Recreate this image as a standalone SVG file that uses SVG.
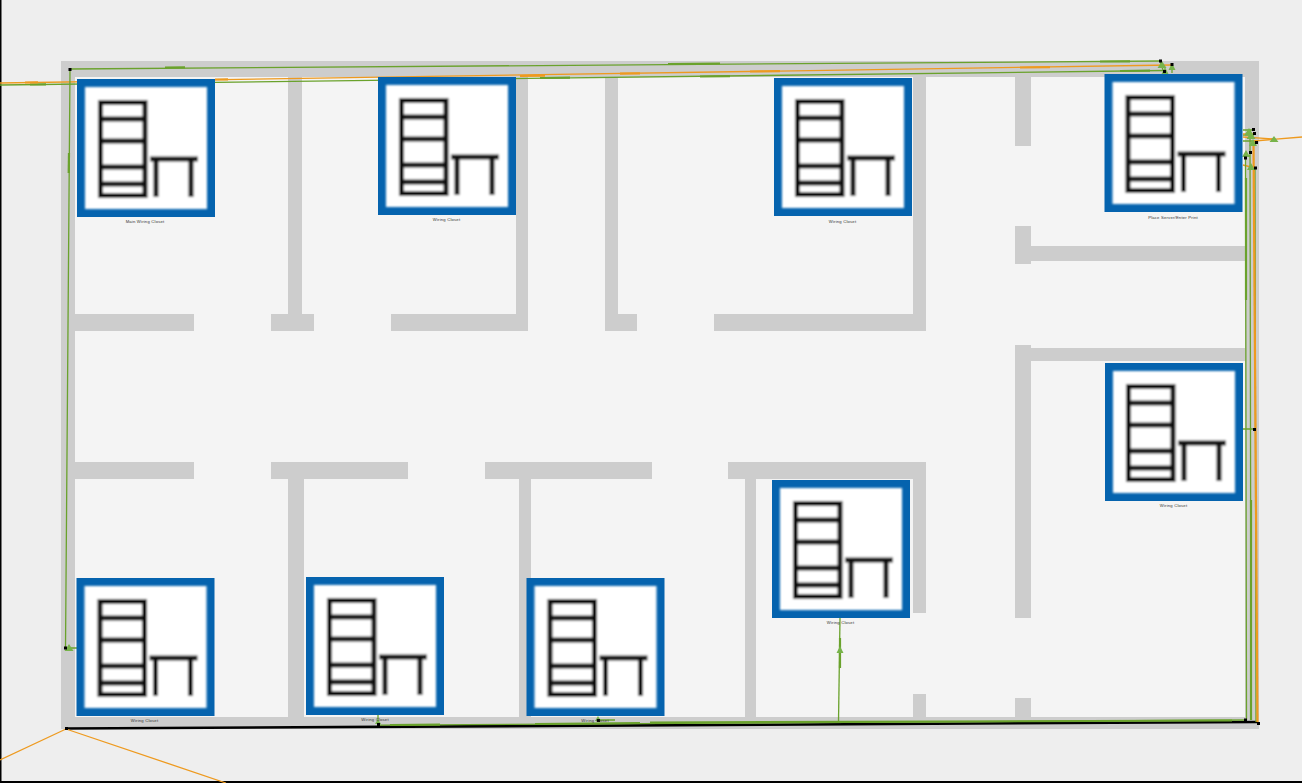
<svg xmlns="http://www.w3.org/2000/svg" width="1302" height="783" viewBox="0 0 1302 783">
<style>
.w{fill:#cdcdcd}
.g{fill:none;stroke:#6aa22c;stroke-width:1.3}
.gt{fill:none;stroke:#6aa22c;stroke-width:2.2}
.o{fill:none;stroke:#ee9a1f;stroke-width:1.3}
.ot{fill:none;stroke:#ee9a1f;stroke-width:2.2}
.k{fill:none;stroke:#000;stroke-width:2.6}
.d{fill:#000}
.a{fill:#77b34a}
.l{font-family:"Liberation Sans",Arial,sans-serif;font-size:4.2px;fill:#333;text-anchor:middle;letter-spacing:.2px}
</style>
<defs>
<filter id="soft" filterUnits="userSpaceOnUse" x="-5" y="-5" width="150" height="150"><feGaussianBlur stdDeviation="0.9"/></filter>
<g id="icon">
<rect width="138" height="138" fill="#0563ae"/>
<g filter="url(#soft)">
<rect x="8" y="8" width="122" height="122" fill="#fff"/>
<g fill="none" stroke="#0c0c0c" stroke-width="5">
<rect x="23.500" y="23.500" width="44.500" height="93"/>
<path d="M23.500 40H68M23.500 62H68M23.500 88H68M23.500 105H68"/>
<path d="M73 80H121M79 80V118M114 80V118"/>
</g>
</g>
</g>
</defs>
<rect width="1302" height="783" fill="#eeeeee"/>
<rect x="0" y="0" width="1.5" height="783" fill="#000"/>
<rect x="0" y="781" width="1302" height="2" fill="#000"/>
<g id="floor">
<rect x="61" y="61" width="1198" height="668" fill="#f4f4f4"/>
<rect class="w" x="61" y="61" width="1198" height="16"/>
<rect class="w" x="61" y="61" width="14" height="668"/>
<rect class="w" x="1245" y="61" width="14" height="668"/>
<rect class="w" x="61" y="717" width="1198" height="12"/>
<rect class="w" x="288" y="77" width="14" height="254"/>
<rect class="w" x="516" y="77" width="12" height="254"/>
<rect class="w" x="605" y="77" width="13" height="254"/>
<rect class="w" x="913" y="77" width="13" height="254"/>
<rect class="w" x="75" y="314" width="119" height="17"/>
<rect class="w" x="271" y="314" width="43" height="17"/>
<rect class="w" x="391" y="314" width="137" height="17"/>
<rect class="w" x="605" y="314" width="32" height="17"/>
<rect class="w" x="714" y="314" width="212" height="17"/>
<rect class="w" x="1015" y="77" width="16" height="69"/>
<rect class="w" x="1015" y="226" width="16" height="38"/>
<rect class="w" x="1015" y="246" width="230" height="15"/>
<rect class="w" x="1015" y="345" width="16" height="273"/>
<rect class="w" x="1015" y="348" width="230" height="13"/>
<rect class="w" x="1015" y="698" width="16" height="19"/>
<rect class="w" x="75" y="462" width="119" height="17"/>
<rect class="w" x="271" y="462" width="137" height="17"/>
<rect class="w" x="485" y="462" width="167" height="17"/>
<rect class="w" x="728" y="462" width="198" height="17"/>
<rect class="w" x="288" y="462" width="16" height="255"/>
<rect class="w" x="519" y="462" width="12" height="255"/>
<rect class="w" x="745" y="462" width="11" height="255"/>
<rect class="w" x="913" y="462" width="13" height="151"/>
<rect class="w" x="913" y="694" width="13" height="23"/>
</g>
<g id="connectors">
<path class="g" d="M70 69L1160 61"/>
<path class="g" d="M0 85L1165 70.500"/>
<path class="o" d="M0 83L1172 65"/>
<path class="gt" d="M165 67.500L185 67.300M668 64L720 63.500M1100 61.500L1130 61.300M30 84.500L46 84.300M540 78L570 77.600M700 76.500L730 76.200M1120 71L1150 70.700"/>
<path class="ot" d="M25 82.500L38 82.300M215 79.500L228 79.300M520 76L545 75.600M620 73.600L640 73.300M750 71.500L780 71.200M1020 67.500L1050 67.200"/>
<path class="g" d="M70 69L65.500 648H77"/>
<path class="gt" d="M69 153L68.700 173"/>
<path class="g" d="M1160 61L1163 70M1165 70.500V73M1172 65V73"/>
<path class="k" d="M66 728.500L1258 722"/>
<path class="g" d="M380 725.200L1246 720"/>
<path class="gt" d="M390 725L440 724.700M535 724L640 723M650 722.500L1232 720.500"/>
<path class="o" d="M66 729L0 760M66 729L226 783"/>
<path class="g" d="M838.500 722L840 618"/>
<path class="gt" d="M840 638L840 668"/>
<path class="g" d="M378 725V715M598 720H615"/>
<path class="g" d="M1243 130H1253M1243 135H1254M1243 141H1256M1243 156H1250M1243 429H1254"/>
<path class="o" d="M1243 134H1254M1243 137L1274 139M1243 165L1255 168"/>
<path class="g" d="M1245.500 158L1246.500 720M1250 130L1251 720M1255 168L1256 722"/>
<path class="gt" d="M1246 178V300M1251 500V720"/>
<path class="ot" d="M1253.500 141L1257.500 722"/>
<path class="o" d="M1302 137L1254 141"/>
<path class="a" d="M840 646l3.500 7h-7zM1274 136l4.500 6h-9zM1162 61l4.500 7h-9zM1172 63l3.500 7h-7zM1165 67l3.500 7h-7zM1249 128l4.500 7h-9zM1251 132l4.500 7h-9zM1253 139l4 7h-8zM1246 150l4 7h-8zM1251 163l4 7h-8zM69 644l4.500 7h-9zM378 719l3 5h-6zM598 716l3 5h-6z"/>
<path class="d" d="M68.500 68h3v3h-3zM1159 59.500h3v3h-3zM1170.500 63h3v3h-3zM1163 70h3v3h-3zM1252 128h3v3h-3zM1253 132h3v3h-3zM1255 141h3v3h-3zM1249 151h3v3h-3zM1244 156.500h3v3h-3zM1254 166.500h3v3h-3zM1253 428h3v3h-3zM64 646.500h3v3h-3zM65 727h3v3h-3zM377 723h3v3h-3zM597 719h3v3h-3zM1244 718.500h3v3h-3zM1257 722h3v3h-3z"/>
</g>
<g id="n1"><use href="#icon" x="77" y="79"/><text class="l" x="145" y="223">Main Wiring Closet</text></g>
<g id="n2"><use href="#icon" x="378" y="77"/><text class="l" x="446.500" y="221">Wiring Closet</text></g>
<g id="n3"><use href="#icon" x="774" y="78"/><text class="l" x="842.500" y="223">Wiring Closet</text></g>
<g id="n4"><use href="#icon" x="1104.500" y="74"/><text class="l" x="1173" y="218.500">Place Server/Enter Print</text></g>
<g id="n5"><use href="#icon" x="1105" y="363"/><text class="l" x="1173.500" y="507">Wiring Closet</text></g>
<g id="n6"><use href="#icon" x="772" y="480"/><text class="l" x="840.500" y="624">Wiring Closet</text></g>
<g id="n7"><use href="#icon" x="76.500" y="578"/><text class="l" x="144.500" y="722">Wiring Closet</text></g>
<g id="n8"><use href="#icon" x="306" y="577"/><text class="l" x="375" y="721">Wiring Closet</text></g>
<g id="n9"><use href="#icon" x="526.500" y="578"/><text class="l" x="595" y="722">Wiring Closet</text></g>
</svg>
